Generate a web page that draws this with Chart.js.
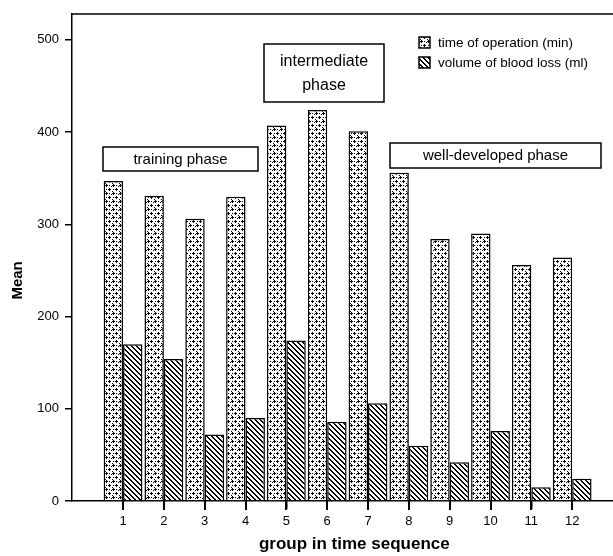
<!DOCTYPE html>
<html>
<head>
<meta charset="utf-8">
<script src="https://cdn.jsdelivr.net/npm/chart.js@4.4.0/dist/chart.umd.min.js"></script>
<style>
html, body { margin: 0; padding: 0; background: #fff; }
</style>
</head>
<body>
<canvas id="ChartGroups" width="613" height="556"></canvas>
<script>
// values
var groups = [1, 2, 3, 4, 5, 6, 7, 8, 9, 10, 11, 12];
var timeOfOperation = [347, 331, 306, 330, 407, 424, 401, 356, 284, 290, 256, 264];
var bloodLoss = [170, 154, 72, 90, 174, 86, 106, 60, 42, 76, 15, 24];
var yTicks = [0, 100, 200, 300, 400, 500];
var seriesNames = ['time of operation (min)', 'volume of blood loss (ml)'];
var phaseNames = [['training phase'], ['intermediate', 'phase'], ['well-developed phase']];

var FONT = '"Liberation Sans", Arial, sans-serif';

function crossPattern() {
    var c = document.createElement('canvas');
    c.width = 7; c.height = 8;
    var g = c.getContext('2d');
    g.fillStyle = '#fff';
    g.fillRect(0, 0, 7, 8);
    g.fillStyle = '#000';
    // two staggered plus signs
    g.fillRect(0, 1, 3, 1); g.fillRect(1, 0, 1, 3);
    g.fillRect(3, 5, 3, 1); g.fillRect(4, 4, 1, 3);
    g.fillRect(4, 1, 1, 1); g.fillRect(6, 2, 1, 1);
    g.fillRect(1, 5, 1, 1); g.fillRect(0, 7, 1, 1);
    return g.createPattern(c, 'repeat');
}

function hatchPattern() {
    var c = document.createElement('canvas');
    c.width = 5; c.height = 5;
    var g = c.getContext('2d');
    g.fillStyle = '#fff';
    g.fillRect(0, 0, 5, 5);
    g.fillStyle = '#000';
    for (var i = 0; i < 5; i++) {
        g.fillRect(i, i, 1, 1);
        g.fillRect((i + 1) % 5, i, 1, 1);
    }
    return g.createPattern(c, 'repeat');
}

function box(ctx, x, y, w, h) {
    ctx.save();
    ctx.fillStyle = '#fff';
    ctx.fillRect(x, y, w, h);
    ctx.strokeStyle = '#000';
    ctx.lineWidth = 1.5;
    ctx.strokeRect(x, y, w, h);
    ctx.restore();
}

var decorations = {
    id: 'decorations',
    afterDraw: function (chart) {
        var ctx = chart.ctx;
        var a = chart.chartArea;
        var xScale = chart.scales.x;
        ctx.save();
        ctx.strokeStyle = '#000';
        ctx.lineWidth = 1.5;
        // top frame line
        ctx.beginPath();
        ctx.moveTo(a.left, a.top);
        ctx.lineTo(a.right, a.top);
        ctx.stroke();

        // tick marks under the x axis, one per group
        ctx.fillStyle = '#000';
        groups.forEach(function (g) {
            var px = Math.round(xScale.getPixelForValue(g));
            ctx.fillRect(px - 1, a.bottom, 2, 9);
        });

        // phase boxes
        ctx.textAlign = 'center';
        ctx.textBaseline = 'middle';

        box(ctx, 103, 147, 155, 24);
        ctx.font = '15px ' + FONT;
        ctx.fillText(phaseNames[0][0], 180.5, 159.5);

        box(ctx, 264, 44, 120, 58);
        ctx.font = '16px ' + FONT;
        ctx.fillText(phaseNames[1][0], 324, 62);
        ctx.fillText(phaseNames[1][1], 324, 86);

        box(ctx, 390, 143, 211, 25);
        ctx.font = '15px ' + FONT;
        ctx.fillText(phaseNames[2][0], 495.5, 156);

        // legend
        ctx.textAlign = 'left';
        ctx.font = '13.5px ' + FONT;
        chart.data.datasets.forEach(function (ds, i) {
            var y = 37 + i * 20;
            ctx.fillStyle = ds.backgroundColor;
            ctx.fillRect(419, y, 11, 11);
            ctx.strokeStyle = '#000';
            ctx.lineWidth = 1.5;
            ctx.strokeRect(419, y, 11, 11);
            ctx.fillStyle = '#000';
            ctx.fillText(ds.label, 438, y + 6);
        });
        ctx.restore();
    }
};

var ctx = document.getElementById('ChartGroups').getContext('2d');

var graph = new Chart(ctx, {
    type: 'bar',
    data: {
        datasets: [
            {
                label: seriesNames[0],
                backgroundColor: crossPattern(),
                borderColor: '#000',
                borderWidth: 1.5,
                data: groups.map(function (g, i) { return { x: g, y: timeOfOperation[i] }; })
            },
            {
                label: seriesNames[1],
                backgroundColor: hatchPattern(),
                borderColor: '#000',
                borderWidth: 1.5,
                data: groups.map(function (g, i) { return { x: g, y: bloodLoss[i] }; })
            }
        ]
    },
    options: {
        responsive: false,
        animation: false,
        devicePixelRatio: 1,
        layout: { padding: { top: 14, right: 0, left: 0, bottom: 0 } },
        datasets: { bar: { categoryPercentage: 0.95, barPercentage: 1.0 } },
        plugins: {
            legend: { display: false },
            tooltip: { enabled: false },
            title: { display: false }
        },
        scales: {
            x: {
                type: 'linear',
                offset: false,
                min: -0.25,
                max: 13,
                afterBuildTicks: function (scale) {
                    scale.ticks = groups.map(function (g) { return { value: g }; });
                },
                afterFit: function (scale) { scale.height = 55; },
                border: { display: true, color: '#000', width: 1.5 },
                grid: {
                    offset: false, drawOnChartArea: false, drawTicks: true,
                    color: '#000', lineWidth: 1.5, tickColor: '#000', tickWidth: 1.5, tickLength: 8
                },
                ticks: { color: '#000', font: { family: FONT, size: 13 }, padding: 5, autoSkip: false, maxRotation: 0 },
                title: {
                    display: true,
                    text: '\u00a0\u00a0\u00a0\u00a0\u00a0group in time sequence',
                    color: '#000',
                    font: { family: FONT, size: 17, weight: 'bold' },
                    padding: { top: 0, bottom: 1 }
                }
            },
            y: {
                min: 0,
                max: 528,
                afterBuildTicks: function (scale) {
                    scale.ticks = yTicks.map(function (v) { return { value: v }; });
                },
                afterFit: function (scale) { scale.width = 72; },
                border: { display: true, color: '#000', width: 1.5 },
                grid: {
                    drawOnChartArea: false, color: '#000', lineWidth: 1.5,
                    tickColor: '#000', tickWidth: 1.5, tickLength: 7
                },
                ticks: { color: '#000', font: { family: FONT, size: 13 }, padding: 6 },
                title: {
                    display: true,
                    text: 'Mean' + '\u00a0'.repeat(11),
                    color: '#000',
                    font: { family: FONT, size: 15, weight: 'bold' },
                    padding: { top: 9, bottom: 0 }
                }
            }
        }
    },
    plugins: [decorations]
});
</script>
</body>
</html>
